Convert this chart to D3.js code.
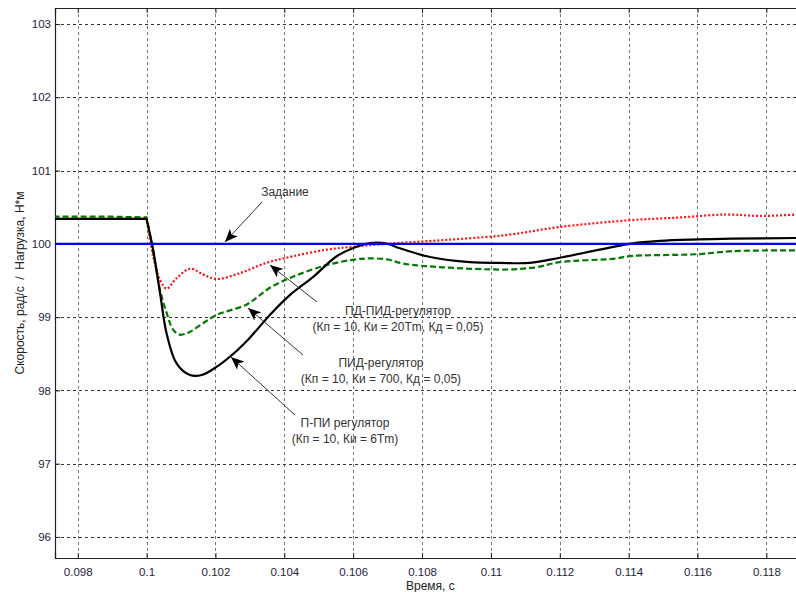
<!DOCTYPE html>
<html>
<head>
<meta charset="utf-8">
<script src="https://cdn.jsdelivr.net/npm/d3@7"></script>
<style>
  body { margin: 0; background: #fff; }
  svg { display: block; font-family: "Liberation Sans", Arial, sans-serif; }
</style>
</head>
<body>
<script>
/**
 * DATA
 */
const xTicks = [0.098, 0.1, 0.102, 0.104, 0.106, 0.108, 0.11, 0.112, 0.114, 0.116, 0.118];
const yTicks = [96, 97, 98, 99, 100, 101, 102, 103];

// Задание (setpoint)
const refTime = [0.0973, 0.1189];
const refValue = [100, 100];

// П-ПИ регулятор
const piTime = [0.0973, 0.0990, 0.1000, 0.10019, 0.10039, 0.10058, 0.10087, 0.10126, 0.10160, 0.10203,
  0.10252, 0.10300, 0.10358, 0.10416, 0.10484, 0.10552, 0.10610, 0.10648, 0.10700, 0.10735,
  0.10823, 0.10939, 0.11026, 0.11113, 0.11200, 0.11316, 0.11403, 0.11490, 0.11606, 0.11700, 0.1189];
const piValue = [100.34, 100.34, 100.34, 99.92, 99.33, 98.78, 98.37, 98.21, 98.21, 98.32,
  98.50, 98.72, 99.03, 99.30, 99.55, 99.83, 99.96, 100.01, 100.0, 99.94,
  99.82, 99.75, 99.74, 99.74, 99.81, 99.92, 100.0, 100.04, 100.06, 100.07, 100.08];

// ПД-ПИД-регулятор
const pdpidTime = [0.0973, 0.1000, 0.10019, 0.10039, 0.10058, 0.10087, 0.10126, 0.10165, 0.10203, 0.10271,
  0.10348, 0.10425, 0.10523, 0.10599, 0.10697, 0.10860, 0.11045, 0.11200, 0.11397, 0.11550,
  0.11684, 0.11780, 0.1189];
const pdpidValue = [100.34, 100.34, 99.83, 99.51, 99.39, 99.53, 99.66, 99.58, 99.52, 99.60,
  99.74, 99.83, 99.92, 99.96, 100.0, 100.05, 100.12, 100.23, 100.32, 100.36,
  100.40, 100.38, 100.40];

// ПИД-регулятор
const pidTime = [0.0973, 0.0990, 0.1000, 0.10019, 0.10039, 0.10058, 0.10077, 0.10097, 0.10126, 0.10165,
  0.10203, 0.10290, 0.10329, 0.10358, 0.10425, 0.10523, 0.10610, 0.10639, 0.10697, 0.10745,
  0.10860, 0.11045, 0.11130, 0.11200, 0.11364, 0.11397, 0.11606, 0.11700, 0.1189];
const pidValue = [100.37, 100.37, 100.36, 99.90, 99.37, 99.06, 98.83, 98.76, 98.80, 98.92,
  99.03, 99.17, 99.30, 99.40, 99.55, 99.71, 99.79, 99.80, 99.79, 99.73,
  99.68, 99.65, 99.68, 99.75, 99.80, 99.83, 99.86, 99.90, 99.91];

// the load step happens here, curves have a sharp corner at it
const STEP_TIME = 0.1;

/**
 * CONSTANTS
 */
const WIDTH = 796;
const HEIGHT = 592;
const LEFT = 55;
const RIGHT = 797;
const TOP = 8;
const BOTTOM = 558;
const TICK = 5;
const INK = "#1e1e3a";

const svg = d3.select("body").append("svg").attr("width", WIDTH).attr("height", HEIGHT);

const x = d3.scaleLinear().domain([0.09734, 0.11889]).range([LEFT, RIGHT]);
const y = d3.scaleLinear().domain([95.713, 103.218]).range([BOTTOM, TOP]);

svg.append("defs").append("clipPath").attr("id", "plot")
  .append("rect").attr("x", LEFT).attr("y", TOP).attr("width", RIGHT - LEFT).attr("height", BOTTOM - TOP);

// grid
const grid = svg.append("g").attr("stroke", "#333").attr("stroke-dasharray", "3,3").attr("stroke-width", 1);
grid.selectAll(".gx").data(xTicks).join("line")
  .attr("x1", (d) => Math.round(x(d)) + 0.5).attr("x2", (d) => Math.round(x(d)) + 0.5)
  .attr("y1", TOP).attr("y2", BOTTOM).attr("stroke", "#777");
grid.selectAll(".gy").data(yTicks).join("line")
  .attr("x1", LEFT).attr("x2", RIGHT)
  .attr("y1", (d) => Math.round(y(d)) + 0.5).attr("y2", (d) => Math.round(y(d)) + 0.5);

// axes (MATLAB style, ticks pointing inwards)
const bottomAxis = d3.axisBottom(x).tickValues(xTicks).tickSize(-TICK).tickPadding(10).tickFormat(d3.format("~g"));
const topAxis = d3.axisTop(x).tickValues(xTicks).tickSize(-TICK).tickFormat("");
const leftAxis = d3.axisLeft(y).tickValues(yTicks).tickSize(-TICK).tickPadding(4).tickFormat(d3.format("d"));

const styleAxis = (g) => {
  g.select(".domain").attr("stroke", "#222").attr("stroke-width", 1.2);
  g.selectAll(".tick line").attr("stroke", "#222");
  g.selectAll(".tick text").attr("fill", INK).attr("font-size", 11.5)
    .attr("font-family", "'Liberation Sans', Arial, sans-serif");
};

svg.append("g").attr("transform", `translate(0,${BOTTOM})`).call(bottomAxis).call(styleAxis);
svg.append("g").attr("transform", `translate(0,${TOP})`).call(topAxis).call(styleAxis);
svg.append("g").attr("transform", `translate(${LEFT},0)`).call(leftAxis).call(styleAxis);

// curves: straight before the step, smooth after it
const flat = d3.line().x((d) => x(d[0])).y((d) => y(d[1]));
const smooth = d3.line().x((d) => x(d[0])).y((d) => y(d[1])).curve(d3.curveCatmullRom.alpha(0.5));
const zip = (ts, vs) => ts.map((t, i) => [t, vs[i]]);
const pathFor = (pts) => {
  const before = pts.filter((p) => p[0] <= STEP_TIME);
  const after = pts.filter((p) => p[0] >= STEP_TIME);
  if (before.length < 2 || after.length < 2) return flat(pts);
  return flat(before) + smooth(after).replace(/^M[^CL]*/, "L" + x(after[0][0]) + "," + y(after[0][1]));
};

const curves = svg.append("g").attr("clip-path", "url(#plot)").attr("fill", "none");
const series = [
  { data: zip(pidTime, pidValue), color: "#007a00", width: 2.2, dash: "6,3" },
  { data: zip(pdpidTime, pdpidValue), color: "#ff1010", width: 2.2, dash: "2,2" },
  { data: zip(piTime, piValue), color: "#000", width: 2.2, dash: null },
  { data: zip(refTime, refValue), color: "#0000ff", width: 2.2, dash: null },
];
curves.selectAll("path").data(series).join("path")
  .attr("d", (d) => pathFor(d.data))
  .attr("stroke", (d) => d.color)
  .attr("stroke-width", (d) => d.width)
  .attr("stroke-linejoin", "round")
  .attr("stroke-dasharray", (d) => d.dash);

// annotations
svg.select("defs").append("marker")
  .attr("id", "head").attr("viewBox", "0 0 12 10").attr("refX", 12).attr("refY", 5)
  .attr("markerWidth", 13).attr("markerHeight", 11).attr("markerUnits", "userSpaceOnUse")
  .attr("orient", "auto")
  .append("path").attr("d", "M0,0 L12,5 L0,10 L3,5 Z").attr("fill", "#000");

const notes = [
  { lines: ["Задание"], tx: 285, ty: 196, from: [262, 202], to: [225, 242] },
  { lines: ["ПД-ПИД-регулятор", "(Кп = 10, Ки = 20Tm, Кд = 0,05)"], tx: 398, ty: 315, from: [317, 302], to: [270, 265] },
  { lines: ["ПИД-регулятор", "(Кп = 10, Ки = 700, Кд = 0,05)"], tx: 381, ty: 367, from: [303, 355], to: [248, 308] },
  { lines: ["П-ПИ регулятор", "(Кп = 10, Ки = 6Tm)"], tx: 345, ty: 427, from: [295, 415], to: [231, 357] },
];

const noteG = svg.append("g");
notes.forEach((n) => {
  noteG.append("line")
    .attr("x1", n.from[0]).attr("y1", n.from[1]).attr("x2", n.to[0]).attr("y2", n.to[1])
    .attr("stroke", "#333").attr("stroke-width", 1).attr("marker-end", "url(#head)");
  const text = noteG.append("text").attr("x", n.tx).attr("y", n.ty)
    .attr("text-anchor", "middle").attr("font-size", 12).attr("fill", "#333");
  n.lines.forEach((l, i) => {
    text.append("tspan").attr("x", n.tx).attr("dy", i === 0 ? 0 : 16).text(l);
  });
});

// axis titles
svg.append("text")
  .attr("transform", `translate(24,283) rotate(-90)`)
  .attr("text-anchor", "middle").attr("font-size", 12).attr("fill", "#222")
  .style("white-space", "pre")
  .text("Скорость, рад/с  /  Нагрузка, Н*м");

svg.append("text").attr("x", 406).attr("y", 590)
  .attr("font-size", 12).attr("fill", "#222")
  .text("Время, с");
</script>
</body>
</html>
